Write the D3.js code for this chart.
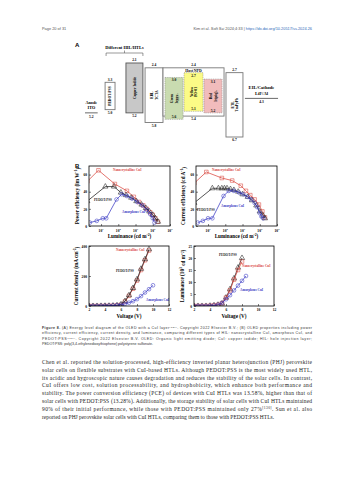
<!DOCTYPE html>
<html><head><meta charset="utf-8">
<script src="https://cdn.jsdelivr.net/npm/d3@7"></script>
<style>body{margin:0;background:#fff}svg{display:block}</style>
</head><body>
<svg id="c" width="353" height="480"></svg>
<script>
// ---------------- DATA ----------------
// Energy level diagram (eV)
const layerIds   = ["ITO","PEDOT","CuI","TCTA","NPD","Green","Yellow","Red","ETL","EIL"];
const layerLumo  = [null, 3.3, 2.1, 2.4, 2.4, 3.0, 2.7, 3.1, 2.7, null];
const layerHomo  = [5.2, 5.0, 5.2, 5.8, 5.4, 5.6, 5.1, 5.2, 6.7, 4.3];
const layerText1 = ["Anode","PEDOT:PSS","Copper Iodide","EBL","","Green","Yellow","Red","ETL","EIL/Cathode"];
const layerText2 = ["ITO","","","TCTA","","Irppy3","PO-01","Ir(piq)3","TmPyPb","LiF/Al"];

// Power efficiency vs luminance (log10 L, lm/W)
const peNanoL  = [0.2,0.85,1.8,2.5,2.9,3.2,3.45,3.65,3.85,4.0,4.15,4.3];
const peNano   = [52,65,49,41,34,28,24,20,16,13,9,5];
const pePedotL = [0.2,1.25,1.75,2.15,2.45,2.75,3.05,3.35,3.6,3.8,4.0,4.15,4.3];
const pePedot  = [29,46,46,39,36,33,29,25,21,17,13,9,5];
const peAmorL  = [0.35,0.75,1.1,1.3,1.9,2.2,2.5,2.8,3.1,3.4,3.65,3.85,4.0,4.1];
const peAmor   = [4,6,9,9,31,37,35,32,28,24,19,14,9,4];

// Current efficiency vs luminance (log10 L, cd/A)
const ceNanoL  = [0.2,0.9,1.8,2.4,2.9,3.2,3.45,3.7,3.95,4.15,4.3];
const ceNano   = [50,63,56,53,47,41,36,31,25,17,10];
const cePedotL = [0.2,1.25,1.6,1.8,1.95,2.1,2.3,2.5,2.75,3.0,3.3,3.55,3.8,4.0,4.2,4.3];
const cePedot  = [27,44,44,44,44,44,43,42,40,37,34,30,24,17,12,9];
const ceAmorL  = [0.4,0.7,1.0,1.25,1.9,2.2,2.5,2.8,3.05,3.3,3.5,3.7,3.85,4.0,4.1,4.2];
const ceAmor   = [4,6,9,9,35,41,41,39,37,34,31,27,22,15,11,9];

// Current density vs voltage (V, mA/cm2)
const jvV      = [2,2.5,3,3.5,4,4.5,5,5.5,6,6.5,7,7.5,8,8.5,9,9.5];
const jvNano   = [0,0,0,0.5,1,1.5,2,4,9,30,68,115,170,240,305,370];
const jvPedot  = [0,0,0,0.5,1,1.5,2.5,5,11,33,72,120,178,248,312,378];
const jvAmorV  = [2,2.5,3,3.5,4,4.5,5,5.5,6,6.5,7,7.5,8,8.5,9,9.5,10];
const jvAmor   = [0,0,0.5,1,1.5,2,3,5,8,14,22,32,46,66,90,112,138];

// Luminance vs voltage (V, 10^3 cd/m2)
const lvV      = [2,2.5,3,3.5,4,4.5,5,5.5,6,6.5,7,7.5,8];
const lvPedot  = [0,0,0,0,0.1,0.3,0.5,1,3.5,7,11.5,16,20];
const lvNano   = [0,0,0,0,0.1,0.3,0.5,1.2,3.5,6.5,11,15,18.5];
const lvAmorV  = [2,2.5,3,3.5,4,4.5,5,5.5,6,6.5,7,7.5,8,8.5];
const lvAmor   = [0,0,0,0,0.1,0.2,0.5,1.3,2.8,4.5,6.5,8.5,10.5,12.5];

const lumTicks  = [1,2,3,4,5];
const peTicks   = [0,20,40,60];
const jTicks    = [0,200,400];
const lTicks    = [0,5,10,15,20,25];
const vTicks    = [2,4,6,8,10,12];
const seriesNames = ["Nanocrystalline CuI","PEDOT:PSS","Amorphous CuI"];

// ---------------- STYLE ----------------
const svg = d3.select("#c");
const serif = "'Liberation Serif','Times New Roman',serif";
const sans = "'Liberation Sans',Arial,sans-serif";
const RED = "#d9473f", BLK = "#1e1e1e", BLU = "#3b3bc4";

// header
svg.append("text").attr("x",42).attr("y",30).attr("font-family",sans).attr("font-size",3.9).attr("fill","#555").text("Page 20 of 31");
const hdr = svg.append("text").attr("x",312).attr("y",30).attr("text-anchor","end").attr("font-family",sans).attr("font-size",3.9).attr("fill","#555");
hdr.append("tspan").text("Kim et al. ");
hdr.append("tspan").attr("font-style","italic").text("Soft Sci");
hdr.append("tspan").text(" 2024;4:33  |  ");
hdr.append("tspan").attr("fill","#2b67b8").text("https://dx.doi.org/10.20517/ss.2024.26");

// panel letters
svg.append("text").attr("x",75).attr("y",47).attr("font-family",sans).attr("font-weight","bold").attr("font-size",6).text("A");
svg.append("text").attr("x",75).attr("y",168).attr("font-family",sans).attr("font-weight","bold").attr("font-size",6).text("B");

// ---------------- ENERGY DIAGRAM ----------------
const eY = d3.scaleLinear().domain([2.1,6.7]).range([63,137]);
const colX = d3.scaleLinear().domain([0,100]).range([85,280]);
const span = {ITO:[0,6.5],PEDOT:[10.3,15.4],CuI:[21,29.7],TCTA:[30.8,40],NPD:[40,71.3],Green:[41,50.3],Yellow:[50.8,60.5],Red:[61,70.3],ETL:[72.3,81],EIL:[82,99]};
const fills = {PEDOT:"#fff",CuI:"#c8c8c8",TCTA:"#fff",NPD:"#fff",Green:"#c9dbb0",Yellow:"#fbfb86",Red:"#f1bcbc",ETL:"#fff"};
const dashed = {Green:true,Yellow:true,Red:true};
const eg = svg.append("g").attr("font-family",serif).attr("font-weight","bold");
const numFS = 3.6;

layerIds.forEach((id,i)=>{
  const [u0,u1] = span[id];
  const x0 = colX(u0), x1 = colX(u1), cx = (x0+x1)/2;
  if (layerLumo[i] === null) {
    const y = eY(layerHomo[i]);
    eg.append("line").attr("x1",x0).attr("x2",x1).attr("y1",y).attr("y2",y).attr("stroke","#444").attr("stroke-width",0.8);
    eg.append("text").attr("x",cx).attr("y",y+5).attr("text-anchor","middle").attr("font-size",numFS).text(layerHomo[i].toFixed(1));
    const fs = id==="EIL"?4.6:4.2;
    eg.append("text").attr("x",cx).attr("y",y-9).attr("text-anchor","middle").attr("font-size",fs).text(layerText1[i]);
    eg.append("text").attr("x",cx).attr("y",y-3.5).attr("text-anchor","middle").attr("font-size",fs).text(layerText2[i]);
    return;
  }
  const yT = eY(layerLumo[i]), yB = eY(layerHomo[i]);
  const inner = !!dashed[id];
  eg.append("rect").attr("x",x0).attr("y",yT).attr("width",x1-x0).attr("height",yB-yT)
    .attr("fill",fills[id]).attr("stroke",id==="CuI"?"#555":"#777").attr("stroke-width",inner?0.5:0.9)
    .attr("stroke-dasharray",inner?"1,0.8":null);
  if (inner) {
    eg.append("text").attr("x",cx).attr("y",yT+4).attr("text-anchor","middle").attr("font-size",numFS).text(layerLumo[i].toFixed(1));
    eg.append("text").attr("x",cx).attr("y",yB-1.3).attr("text-anchor","middle").attr("font-size",numFS).text(layerHomo[i].toFixed(1));
  } else {
    eg.append("text").attr("x",cx).attr("y",yT-1.6).attr("text-anchor","middle").attr("font-size",numFS).text(layerLumo[i].toFixed(1));
    eg.append("text").attr("x",cx).attr("y",yB+4.3).attr("text-anchor","middle").attr("font-size",numFS).text(layerHomo[i].toFixed(1));
  }
  if (id==="NPD") {
    eg.append("text").attr("x",cx).attr("y",yT+4).attr("text-anchor","middle").attr("font-size",3.8).text("Host NPD");
    return;
  }
  const cy = (yT+yB)/2;
  const t = eg.append("text").attr("transform",`translate(${cx},${cy}) rotate(-90)`).attr("text-anchor","middle").attr("font-size",3.6);
  if (layerText2[i]) {
    t.append("tspan").attr("x",0).attr("dy",-0.8).text(layerText1[i]);
    const t2 = t.append("tspan").attr("x",0).attr("dy",4.4);
    if (layerText2[i]==="Irppy3") { t2.text("Irppy"); t2.append("tspan").attr("font-size",2.6).attr("dy",0.8).text("3"); }
    else if (layerText2[i]==="Ir(piq)3") { t2.text("Ir(piq)"); t2.append("tspan").attr("font-size",2.6).attr("dy",0.8).text("3"); }
    else t2.text(layerText2[i]);
  } else {
    t.append("tspan").attr("x",0).attr("dy",1.3).text(layerText1[i]);
  }
});
{
  const bx0 = colX(span.PEDOT[0])+1, bx1 = colX(span.CuI[1]), bm = (bx0+bx1)/2, by = 53;
  eg.append("path").attr("d",`M${bx0},${by+3}V${by}H${bx1}V${by+3}M${bm},${by}V${by-2.5}`).attr("fill","none").attr("stroke","#555").attr("stroke-width",0.6);
  eg.append("text").attr("x",bm).attr("y",by-4).attr("text-anchor","middle").attr("font-size",4.4).text("Different HIL/HTLs");
}

// ---------------- PLOTS ----------------
function sup(sel, base, s, tail) {
  sel.append("tspan").text(base);
  sel.append("tspan").attr("font-size","70%").attr("dy","-0.45em").text(s);
  if (tail) sel.append("tspan").attr("dy","0.45em").text(tail);
}
function makePlot(o) {
  const g = svg.append("g").attr("font-family",serif).attr("font-weight","bold");
  const x = o.xlog ? d3.scaleLog().domain(o.xd).range([o.x0,o.x1]) : d3.scaleLinear().domain(o.xd).range([o.x0,o.x1]);
  const y = d3.scaleLinear().domain(o.yd).range([o.y1,o.y0]);
  const cid = "clip"+o.id;
  svg.append("clipPath").attr("id",cid).append("rect").attr("x",o.x0).attr("y",o.y0).attr("width",o.x1-o.x0).attr("height",o.y1-o.y0);
  const xa = d3.axisBottom(x).tickValues(o.xt).tickSizeInner(-2).tickSizeOuter(0).tickPadding(2.2)
     .tickFormat(o.xlog ? ()=>"" : d3.format("d"));
  const gx = g.append("g").attr("transform",`translate(0,${o.y1})`).call(xa);
  const ya = d3.axisLeft(y).tickValues(o.yt).tickSizeInner(-2).tickSizeOuter(0).tickPadding(2).tickFormat(d3.format("d"));
  const gy = g.append("g").attr("transform",`translate(${o.x0},0)`).call(ya);
  [gx,gy].forEach(a=>{a.selectAll("text").attr("font-size",3.6).attr("font-family",serif).attr("font-weight","bold").attr("fill","#000");
    a.select(".domain").remove(); a.selectAll("line").attr("stroke","#000").attr("stroke-width",0.5);});
  if (o.xlog) {
    o.xt.forEach(v=>{
      const t = g.append("text").attr("x",x(v)).attr("y",o.y1+5.6).attr("text-anchor","middle").attr("font-size",3.6);
      sup(t,"10",String(Math.round(Math.log10(v))));
    });
  }
  o.series.forEach(s=>{
    const pts = s.xs.map((v,i)=>[o.xlog?Math.pow(10,v):v, s.ys[i]]);
    const sg = g.append("g").attr("clip-path",`url(#${cid})`);
    sg.append("path").datum(pts).attr("fill","none").attr("stroke",s.c).attr("stroke-width",0.75)
      .attr("d",d3.line().x(d=>x(d[0])).y(d=>y(d[1])));
    const sym = d3.symbol().type(s.m==="sq"?d3.symbolSquare:s.m==="tri"?d3.symbolTriangle:d3.symbolCircle).size(s.m==="sq"?13:s.m==="tri"?12:11);
    sg.selectAll("path.m").data(pts).join("path").attr("class","m")
      .attr("transform",d=>`translate(${x(d[0])},${y(d[1])})`).attr("d",sym)
      .attr("fill","none").attr("stroke",s.c).attr("stroke-width",0.55);
    g.append("text").attr("x",s.lx).attr("y",s.ly).attr("font-size",3.3).attr("fill",s.c).text(s.name);
  });
  g.append("rect").attr("x",o.x0).attr("y",o.y0).attr("width",o.x1-o.x0).attr("height",o.y1-o.y0).attr("fill","none").attr("stroke","#000").attr("stroke-width",0.8);
  const xt = g.append("text").attr("x",(o.x0+o.x1)/2).attr("y",o.y1+11.5).attr("text-anchor","middle").attr("font-size",5.2);
  if (o.xsup) sup(xt,o.xtitle,o.xsup,")"); else xt.text(o.xtitle);
  const yt = g.append("text").attr("transform",`translate(${o.x0-o.ytOff},${(o.y0+o.y1)/2}) rotate(-90)`).attr("text-anchor","middle").attr("font-size",5.2);
  if (o.ysup) sup(yt,o.ytitle,o.ysup,o.ytail); else yt.text(o.ytitle);
}

const lum = lumTicks.map(p=>Math.pow(10,p));
makePlot({id:1,xlog:true,x0:89,x1:170,y0:166,y1:226,xd:[2,1e5],yd:[0,70],xt:lum,yt:peTicks,
  xtitle:"Luminance (cd m",xsup:"-2",ytitle:"Power efficiency (lm W",ysup:"-1",ytail:")",ytOff:10,
  series:[
    {name:seriesNames[0],xs:peNanoL,ys:peNano,c:RED,m:"sq",lx:113,ly:171},
    {name:seriesNames[1],xs:pePedotL,ys:pePedot,c:BLK,m:"tri",lx:94,ly:201},
    {name:seriesNames[2],xs:peAmorL,ys:peAmor,c:BLU,m:"circ",lx:122,ly:213}]});
makePlot({id:2,xlog:true,x0:196,x1:277,y0:166,y1:226,xd:[2,1e5],yd:[0,70],xt:lum,yt:peTicks,
  xtitle:"Luminance (cd m",xsup:"-2",ytitle:"Current efficiency (cd A",ysup:"-1",ytail:")",ytOff:11,
  series:[
    {name:seriesNames[0],xs:ceNanoL,ys:ceNano,c:RED,m:"sq",lx:212,ly:171},
    {name:seriesNames[1],xs:cePedotL,ys:cePedot,c:BLK,m:"tri",lx:197,ly:211},
    {name:seriesNames[2],xs:ceAmorL,ys:ceAmor,c:BLU,m:"circ",lx:221,ly:207}]});
makePlot({id:3,xlog:false,x0:89,x1:169,y0:246,y1:306,xd:[2,12],yd:[0,400],xt:vTicks,yt:jTicks,
  xtitle:"Voltage (V)",ytitle:"Current density (mA cm",ysup:"-2",ytail:")",ytOff:11,
  series:[
    {name:seriesNames[0],xs:jvV,ys:jvNano,c:RED,m:"sq",lx:116,ly:251},
    {name:seriesNames[1],xs:jvV,ys:jvPedot,c:BLK,m:"tri",lx:116,ly:272},
    {name:seriesNames[2],xs:jvAmorV,ys:jvAmor,c:BLU,m:"circ",lx:146,ly:301}]});
makePlot({id:4,xlog:false,x0:194,x1:274,y0:246,y1:306,xd:[2,12],yd:[0,25],xt:vTicks,yt:lTicks,
  xtitle:"Voltage (V)",ytitle:"Luminance (10",ysup:"3",ytail:" cd m⁻²)",ytOff:10,
  series:[
    {name:seriesNames[1],xs:lvV,ys:lvPedot,c:BLK,m:"tri",lx:219,ly:256},
    {name:seriesNames[0],xs:lvV,ys:lvNano,c:RED,m:"sq",lx:242,ly:267},
    {name:seriesNames[2],xs:lvAmorV,ys:lvAmor,c:BLU,m:"circ",lx:240,ly:291}]});

// ---------------- CAPTION ----------------
const capLines = [
  ["Figure 8. ","(A) Energy level diagram of the OLED with a CuI layer","[129]",". Copyright 2022 Elsevier B.V.; (B) OLED properties including power"],
  ["","efficiency, current efficiency, current density, and luminance, comparing different types of HIL: nanocrystalline CuI, amorphous CuI, and","",""],
  ["","PEDOT:PSS","[129]",". Copyright 2022 Elsevier B.V. OLED: Organic light emitting diode; CuI: copper iodide; HIL: hole injection layer;"],
  ["","PEDOT:PSS: poly(3,4-ethylenedioxythiophene) polystyrene sulfonate.","",""]];
capLines.forEach((l,i)=>{
  const t = svg.append("text").attr("x",42).attr("y",329+i*5.4).attr("font-family",sans).attr("font-size",3.6).attr("fill","#333");
  if (i<3) t.attr("textLength",270).attr("lengthAdjust","spacing");
  if (l[0]) t.append("tspan").attr("font-weight","bold").text(l[0]);
  t.append("tspan").text(l[1]);
  if (l[2]) t.append("tspan").attr("font-size",2.5).attr("dy",-1.3).text(l[2]);
  if (l[3]) t.append("tspan").attr("dy",l[2]?1.3:0).text(l[3]);
});

// ---------------- BODY ----------------
const body = [
  "Chen et al. reported the solution-processed, high-efficiency inverted planar heterojunction (PHJ) perovskite",
  "solar cells on flexible substrates with CuI-based HTLs. Although PEDOT:PSS is the most widely used HTL,",
  "its acidic and hygroscopic nature causes degradation and reduces the stability of the solar cells. In contrast,",
  "CuI offers low cost, solution processability, and hydrophobicity, which enhance both performance and",
  "stability. The power conversion efficiency (PCE) of devices with CuI HTLs was 13.58%, higher than that of",
  "solar cells with PEDOT:PSS (13.28%). Additionally, the storage stability of solar cells with CuI HTLs maintained",
  "90% of their initial performance, while those with PEDOT:PSS maintained only 27%|[130]|. Sun et al. also",
  "reported on PHJ perovskite solar cells with CuI HTLs, comparing them to those with PEDOT:PSS HTLs."];
body.forEach((l,i)=>{
  const t = svg.append("text").attr("x",42).attr("y",364+i*7.8).attr("font-family",serif).attr("font-size",5.5).attr("fill","#222");
  if (i<7) t.attr("textLength",270).attr("lengthAdjust","spacing");
  const parts = l.split("|");
  if (parts.length===3) {
    t.append("tspan").text(parts[0]);
    t.append("tspan").attr("font-size",3.6).attr("dy",-2).text(parts[1]);
    t.append("tspan").attr("dy",2).text(parts[2]);
  } else t.text(l);
});
</script>
</body></html>
